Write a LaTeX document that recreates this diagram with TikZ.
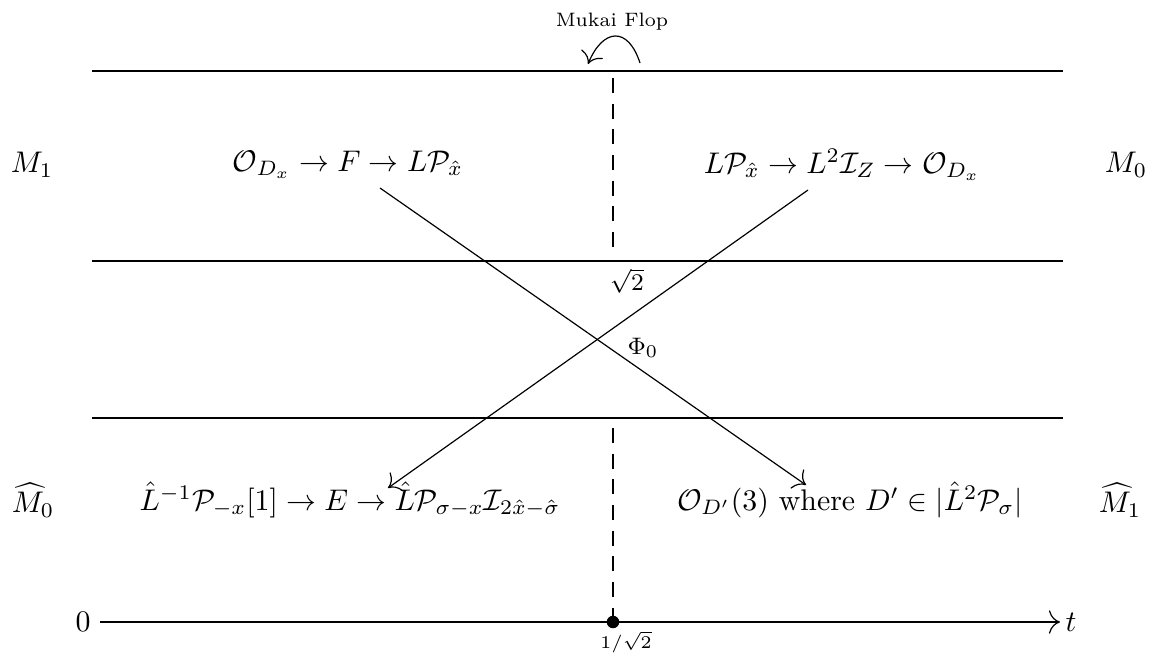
\documentclass[tikz,border=0pt]{standalone}
\usepackage{amsmath,amssymb}
\usetikzlibrary{arrows.meta}
\begin{document}
\begin{tikzpicture}[x=0.335pt,y=-0.335pt,
  >={To[scale=1.5]},
  hline/.style={line width=0.4pt},
  guide/.style={line width=0.4pt,dash pattern=on 5pt off 3.6pt},
  map/.style={->,line width=0.4pt},
  small/.style={font=\fontsize{6.5}{8}\selectfont},
  mid/.style={font=\fontsize{8}{9.5}\selectfont},
  lab/.style={inner sep=0pt}]
\useasboundingbox (0,0) rectangle (1155,655);
% horizontal lines
\coordinate (l1a) at (92,71);  \coordinate (l1b) at (1063,71);
\coordinate (l2a) at (92,261); \coordinate (l2b) at (1063,261);
\coordinate (l3a) at (92,418); \coordinate (l3b) at (1063,418);
\draw[hline] (l1a) -- (l1b);
\draw[hline] (l2a) -- (l2b);
\draw[hline] (l3a) -- (l3b);
% axis
\node[lab] (zero) at (83,622) {$0$};
\node[lab] (tt) at (1071,622) {$t$};
\coordinate (ax0) at (100,622);
\coordinate (ax1) at (1060,622);
\draw[->] (ax0) -- (ax1);
\node[circle,fill,inner sep=0pt,minimum size=4.2pt] (dot) at (613,622) {};
\node[small] (half) at (626,642) {$1/\sqrt{2}$};
% dashed guide (interrupted in the middle band)
\coordinate (gtop) at (613,78);
\coordinate (gmid1) at (613,254);
\coordinate (gmid2) at (613,428);
\draw[guide] (gtop) -- (gmid1);
\draw[guide] (gmid2) -- (dot.center);
% Mukai flop
\node[small] (mukai) at (612,22) {Mukai Flop};
\coordinate (fa) at (640,63);
\coordinate (fb) at (588,64);
\draw[->] (fa) .. controls (628,26) and (603,28) .. (fb);
% side labels
\node (M1) at (32,165) {$M_1$};
\node (M0) at (1126,165) {$M_0$};
\node (hM0) at (33,500) {$\widehat{M}_0$};
\node (hM1) at (1120,500) {$\widehat{M}_1$};
% formulas
\node (TL) at (348,165) {$\mathcal{O}_{D_x}\to F\to L\mathcal{P}_{\hat{x}}$};
\node (TR) at (842,165) {$L\mathcal{P}_{\hat{x}}\to L^2\mathcal{I}_Z\to\mathcal{O}_{D_x}$};
\node (BL) at (350,500) {$\hat{L}^{-1}\mathcal{P}_{-x}[1]\to E\to\hat{L}\mathcal{P}_{\sigma-x}\mathcal{I}_{2\hat{x}-\hat{\sigma}}$};
\node (BR) at (850,500) {$\mathcal{O}_{D'}(3)$ where $D'\in|\hat{L}^2\mathcal{P}_\sigma|$};
% crossing maps
\coordinate (s1) at (380,188);
\coordinate (e1) at (806,485);
\coordinate (s2) at (808,190);
\coordinate (e2) at (388,488);
\draw[map] (s1) -- (e1);
\draw[map] (s2) -- (e2);
\node[mid] (sq) at (627,281) {$\sqrt{2}$};
\node[mid] (phi) at (643,348) {$\Phi_0$};
\end{tikzpicture}
\end{document}
